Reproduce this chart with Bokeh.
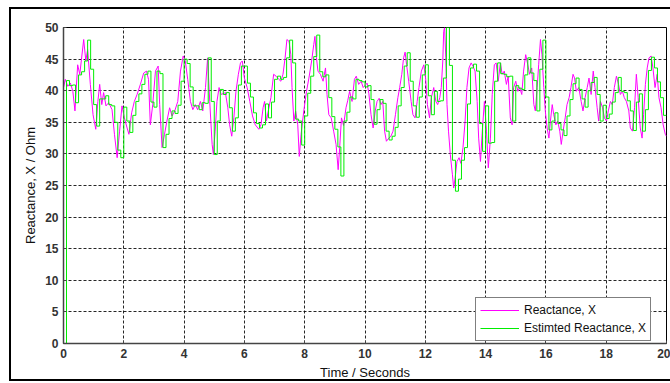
from bokeh.plotting import figure
from bokeh.models import FixedTicker, Range1d, Legend, LegendItem
from bokeh.embed import file_html
from bokeh.resources import INLINE

# ---------------- data ----------------
x_ticks = [0, 2, 4, 6, 8, 10, 12, 14, 16, 18, 20]
y_ticks = [0, 5, 10, 15, 20, 25, 30, 35, 40, 45, 50]

mag_t = [0.0, 0.06, 0.14, 0.23, 0.31, 0.38, 0.47, 0.54, 0.59, 0.67, 0.74, 0.80, 0.89, 0.98, 1.07, 1.14, 1.20, 1.27,
         1.33, 1.41, 1.50, 1.61, 1.69, 1.78, 1.86, 1.94, 2.02, 2.11, 2.17, 2.26, 2.35, 2.44, 2.55, 2.66, 2.75, 2.82,
         2.88, 2.96, 3.05, 3.14, 3.19, 3.27, 3.35, 3.43, 3.52, 3.60, 3.69, 3.79, 3.88, 3.97, 4.04, 4.12, 4.21, 4.29,
         4.37, 4.45, 4.54, 4.62, 4.71, 4.78, 4.85, 4.93, 4.97,
         5.03, 5.09, 5.16, 5.23, 5.37, 5.45, 5.51, 5.58, 5.65, 5.72, 5.80, 5.87, 5.93, 6.00, 6.09, 6.18, 6.27, 6.36,
         6.48, 6.55, 6.62, 6.67, 6.73, 6.80, 6.88, 6.97, 7.05, 7.14, 7.21, 7.28, 7.35, 7.41, 7.48, 7.54, 7.58, 7.64,
         7.70, 7.77, 7.82, 7.88, 7.97, 8.06, 8.14, 8.23, 8.30, 8.34, 8.39, 8.44, 8.52, 8.61, 8.69, 8.74, 8.80, 8.88,
         8.96, 9.04, 9.11, 9.16, 9.22, 9.29, 9.37, 9.43, 9.49, 9.57, 9.65, 9.71, 9.79, 9.87, 9.94,
         10.07, 10.13, 10.20, 10.27, 10.34, 10.40, 10.47, 10.53, 10.59, 10.65, 10.71, 10.79, 10.86, 10.93, 11.01,
         11.09, 11.15, 11.22, 11.28, 11.33, 11.38, 11.45, 11.53, 11.59, 11.66, 11.73, 11.79, 11.87, 11.95, 12.01,
         12.07, 12.14, 12.20, 12.28, 12.35, 12.41, 12.48, 12.53, 12.58, 12.61, 12.64, 12.68, 12.72, 12.77, 12.83,
         12.90, 12.94, 12.99, 13.05, 13.12, 13.18, 13.25, 13.32, 13.38, 13.45, 13.52, 13.58, 13.65, 13.72, 13.77,
         13.83, 13.89, 13.96, 14.03, 14.09, 14.16, 14.22, 14.29, 14.35, 14.42, 14.49, 14.55, 14.62, 14.69, 14.75,
         14.82, 14.88,
         14.93, 15.00, 15.07, 15.13, 15.20, 15.26, 15.33, 15.40, 15.46, 15.53, 15.60, 15.65, 15.71, 15.76, 15.82,
         15.87, 15.93, 15.98, 16.04, 16.10, 16.15, 16.21, 16.26, 16.33, 16.39, 16.46, 16.51, 16.57, 16.64, 16.70,
         16.77, 16.83, 16.90, 16.95, 17.01, 17.09, 17.17, 17.23, 17.30, 17.37, 17.43, 17.50, 17.57, 17.63, 17.70,
         17.75, 17.81, 17.88, 17.94, 18.01, 18.07, 18.14, 18.20, 18.27, 18.34, 18.41, 18.47, 18.54, 18.60, 18.67,
         18.75, 18.80, 18.87, 18.94, 19.00, 19.06, 19.13, 19.19, 19.24, 19.30, 19.36, 19.42, 19.49, 19.55, 19.62,
         19.69, 19.75, 19.82, 19.89, 19.96, 20.00]

mag_v = [40.5, 41.8, 40.7, 41.2, 39.9, 36.8, 44.1, 42.6, 44.7, 48.1, 44.7, 46.5, 41.0, 36.2, 33.9, 38.3, 41.0, 37.8,
         39.7, 37.6, 38.1, 37.0, 33.1, 29.4, 33.6, 37.6, 35.7, 34.1, 33.1, 36.5, 38.3, 39.4, 41.0, 42.8, 43.1, 41.8,
         34.6, 37.8, 43.1, 43.9, 37.8, 31.0, 33.1, 35.2, 37.3, 36.0, 36.8, 38.3, 43.1, 45.5, 44.7, 41.8, 38.3, 37.0,
         37.8, 37.0, 38.3, 36.8, 40.5, 45.2, 38.3, 31.5, 29.9,
         33.6, 38.3, 40.5, 39.4, 39.7, 37.3, 34.6, 32.8, 35.7, 39.9, 42.6, 44.4, 44.7, 42.0, 40.5, 38.3, 36.0, 34.6,
         33.9, 34.6, 37.3, 38.3, 35.2, 37.0, 38.9, 42.6, 42.3, 41.8, 41.5, 42.6, 45.2, 48.1, 47.8, 45.7, 40.5, 35.2,
         36.8, 34.6, 29.6, 33.1, 36.8, 39.9, 42.0, 44.7, 47.3, 48.6, 45.2, 43.1, 42.6, 41.5, 43.6, 39.4, 36.2, 35.7,
         33.6, 31.5, 27.5, 31.0, 35.7, 34.5, 37.3, 38.5, 39.9, 38.3, 41.8, 42.3, 41.0, 41.5, 40.5,
         41.2, 39.5, 36.2, 34.1, 36.8, 38.3, 38.8, 37.8, 38.3, 33.6, 32.0, 32.5, 32.8, 33.6, 36.2,
         38.9, 40.5, 42.6, 45.2, 46.1, 44.1, 41.5, 38.3, 36.2, 35.7, 38.3, 40.5, 43.1, 44.1, 42.0,
         37.8, 35.7, 38.9, 40.5, 38.3, 37.8, 38.9, 40.5, 44.7, 49.4, 50.0, 45.2, 37.8, 33.6, 29.9,
         26.7, 24.6, 26.2, 28.8, 29.4, 28.5, 31.0, 35.2, 40.5, 43.6, 44.4, 43.9, 43.1, 38.3, 32.5,
         28.8, 33.6, 38.3, 33.6, 27.8, 32.5, 39.4, 44.1, 44.4, 41.5, 44.4, 42.6, 43.1, 41.0, 42.3,
         35.7, 34.6,
         40.5, 41.5, 39.9, 40.5, 39.4, 43.1, 45.7, 44.1, 42.6, 43.6, 37.8, 36.8, 40.5, 44.1, 48.1,
         45.7, 40.5, 36.8, 34.1, 32.5, 35.2, 37.8, 36.2, 34.6, 35.2, 33.6, 31.5, 33.6, 35.7, 37.8,
         38.9, 40.5, 42.6, 42.0, 39.9, 40.5, 38.3, 36.8, 38.9, 40.5, 42.0, 39.4, 43.1, 40.5, 37.3,
         35.2, 38.3, 37.3, 35.7, 35.2, 36.8, 38.3, 37.8, 40.5, 42.3, 41.0, 39.4, 39.9, 38.9, 38.3,
         36.8, 34.1, 33.6, 37.3, 42.6, 38.9, 34.1, 32.5, 36.2, 41.0, 43.6, 45.2, 45.5, 43.6, 40.5,
         42.6, 38.9, 37.3, 34.6, 33.1, 32.8]

# estimated reactance: one held level per 0.1 s sample
est_v = [0.0, 41.6, 40.8, 40.9, 38.1, 42.5, 43.0, 44.7, 48.0, 43.4,
         37.8, 34.4, 38.7, 38.7, 39.2, 37.8, 37.6, 35.0, 30.6, 29.4,
         37.4, 35.2, 33.4, 36.1, 38.3, 39.5, 41.0, 42.6, 43.1, 38.2,
         37.4, 43.1, 42.7, 31.0, 33.1, 35.6, 36.8, 36.4, 37.7, 41.5,
         45.0, 44.3, 40.6, 37.6, 37.6, 37.0, 38.1, 38.0, 45.2, 38.3,
         29.9, 35.2, 40.2, 39.4, 39.7, 37.3, 33.6, 35.7, 40.9, 43.9,
         43.9, 41.2, 39.0, 36.5, 34.8, 34.1, 34.6, 37.9, 35.7, 38.2,
         41.8, 42.3, 41.8, 42.1, 45.2, 48.0, 44.4, 35.5, 35.2, 31.4,
         36.0, 39.6, 42.3, 45.4, 48.8, 43.0, 42.2, 42.5, 38.9, 35.9,
         33.9, 31.1, 26.5, 35.2, 36.6, 39.0, 38.7, 41.8, 41.6, 41.4,
         40.6, 40.8, 38.6, 34.7, 37.0, 38.6, 38.0, 33.6, 32.2, 32.8,
         34.2, 37.6, 40.5, 43.9, 46.0, 41.5, 37.6, 35.8, 39.0, 42.5,
         44.1, 39.2, 36.2, 39.9, 38.3, 38.4, 42.0, 50.0, 44.0, 29.0,
         24.1, 26.0, 29.0, 31.0, 37.9, 43.6, 44.2, 43.1, 34.8, 30.4,
         37.6, 31.7, 31.8, 41.5, 44.4, 42.7, 42.6, 42.2, 42.3, 35.2,
         40.8, 40.4, 40.2, 42.5, 45.2, 42.8, 41.6, 36.8, 43.4, 48.0,
         39.0, 33.8, 35.2, 36.5, 34.8, 33.8, 32.9, 36.0, 38.6, 41.1,
         42.0, 40.2, 38.7, 37.4, 40.0, 41.3, 42.1, 39.4, 35.2, 37.7,
         35.6, 36.3, 38.2, 39.7, 42.1, 39.9, 39.7, 38.4, 36.8, 33.7,
         38.2, 39.5, 33.6, 37.0, 43.2, 45.3, 43.6, 41.4, 38.9, 36.1]
est_t = [round(0.1 * i, 1) for i in range(len(est_v))] + [20.0]
est_v_plot = est_v + [est_v[-1]]

FONT = "Liberation Sans"
MAGENTA = "#FF00FF"
GREEN = "#00EE00"

p = figure(width=670, height=383, output_backend="svg", toolbar_location=None,
           x_range=Range1d(0, 20), y_range=Range1d(0, 50),
           min_border_left=63, min_border_right=4, min_border_top=27, min_border_bottom=40,
           background_fill_color="white", border_fill_color=None)

r1 = p.line(mag_t, mag_v, line_color=MAGENTA, line_width=1)
r2 = p.step(est_t, est_v_plot, mode="after", line_color=GREEN, line_width=1)

p.xaxis.ticker = FixedTicker(ticks=x_ticks)
p.yaxis.ticker = FixedTicker(ticks=y_ticks)
p.xaxis.axis_label = "Time / Seconds"
p.yaxis.axis_label = "Reactance, X / Ohm"

for ax in (p.xaxis, p.yaxis):
    ax.major_tick_in = 3
    ax.major_tick_out = 0
    ax.minor_tick_line_color = None
    ax.axis_line_color = "#444444"
    ax.axis_line_width = 1.5
    ax.major_tick_line_color = "#444444"
    ax.major_label_text_font = FONT
    ax.major_label_text_font_size = "12px"
    ax.major_label_text_font_style = "bold"
    ax.major_label_text_color = "#333333"
    ax.axis_label_text_font = FONT
    ax.axis_label_text_font_size = "13px"
    ax.axis_label_text_font_style = "normal"
    ax.axis_label_text_color = "#111111"
    ax.major_label_standoff = 5
p.xaxis.axis_label_standoff = 4
p.yaxis.axis_label_standoff = 4

p.grid.grid_line_color = "black"
p.grid.grid_line_dash = "3 2"
p.grid.grid_line_width = 1
p.grid.grid_line_alpha = 0.85

p.outline_line_color = "black"
p.outline_line_width = 1

legend = Legend(items=[LegendItem(label="Reactance, X", renderers=[r1]),
                       LegendItem(label="Estimted Reactance, X", renderers=[r2])],
                location=(412, 2))
legend.border_line_color = "black"
legend.border_line_width = 1
legend.background_fill_color = "white"
legend.background_fill_alpha = 1
legend.label_text_font = FONT
legend.label_text_font_size = "12px"
legend.label_text_color = "#111111"
legend.glyph_width = 39
legend.glyph_height = 16
legend.label_height = 16
legend.spacing = 2
legend.padding = 4
legend.margin = 0
legend.label_standoff = 5
p.add_layout(legend)

# outer black frame of the figure window, painted behind the transparent canvas border
p.styles = {
    "background-color": "white",
    "background-image": "linear-gradient(#000,#000), linear-gradient(#000,#000), linear-gradient(#000,#000)",
    "background-position": "9px 7px, 9px 7px, 9px 379px",
    "background-size": "2px 374px, 661px 2px, 661px 2px",
    "background-repeat": "no-repeat",
}

open("out.html", "w").write(file_html(p, INLINE))
